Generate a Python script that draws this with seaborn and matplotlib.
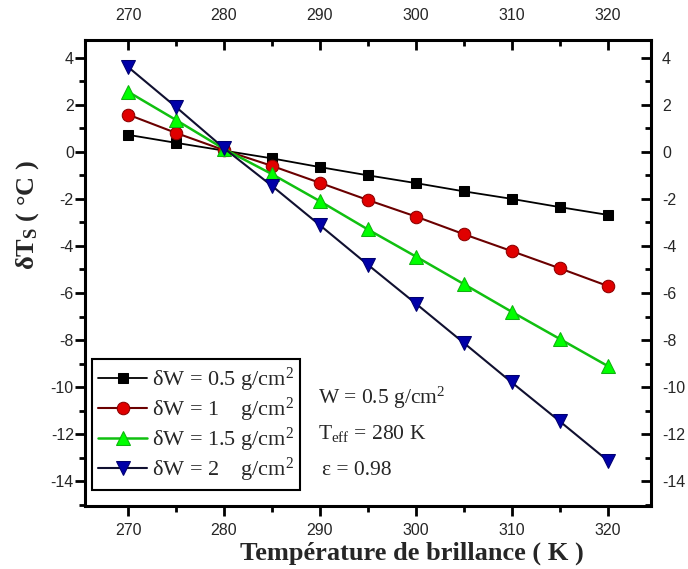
import matplotlib
matplotlib.use("Agg")
import matplotlib.pyplot as plt
import seaborn as sns
import pandas as pd
from matplotlib.ticker import MultipleLocator

# Data
temperature = [270, 275, 280, 285, 290, 295, 300, 305, 310, 315, 320]
dw_05 = [0.72, 0.38, 0.05, -0.28, -0.65, -1.0, -1.33, -1.68, -2.0, -2.35, -2.68]
dw_1 = [1.58, 0.8, 0.07, -0.6, -1.32, -2.05, -2.75, -3.5, -4.22, -4.95, -5.7]
dw_15 = [2.55, 1.35, 0.12, -0.95, -2.1, -3.3, -4.45, -5.62, -6.8, -7.95, -9.1]
dw_2 = [3.6, 1.9, 0.15, -1.45, -3.12, -4.8, -6.45, -8.12, -9.8, -11.45, -13.12]
labels = [r"$\delta$W = 0.5 g/cm$^2$", r"$\delta$W = 1    g/cm$^2$",
          r"$\delta$W = 1.5 g/cm$^2$", r"$\delta$W = 2    g/cm$^2$"]
series = [dw_05, dw_1, dw_15, dw_2]

sns.set_style("white")
plt.rcParams['font.family'] = ['Liberation Sans', 'DejaVu Sans']
plt.rcParams['axes.unicode_minus'] = False
plt.rcParams['mathtext.fontset'] = 'custom'
plt.rcParams['mathtext.rm'] = 'Liberation Serif'
plt.rcParams['mathtext.it'] = 'Liberation Serif'
plt.rcParams['mathtext.bf'] = 'Liberation Serif:bold'

styles = [
    dict(color='black', marker='s', markerfacecolor='black', markeredgecolor='black', markersize=7.5, linewidth=1.3),
    dict(color='#6b0000', marker='o', markerfacecolor='#e00000', markeredgecolor='#8b0000', markersize=9, linewidth=1.5),
    dict(color='#10c010', marker='^', markerfacecolor='#00ff00', markeredgecolor='#10b010', markersize=10, linewidth=1.8),
    dict(color='#101030', marker='v', markerfacecolor='#0000a8', markeredgecolor='#000070', markersize=10, linewidth=1.5),
]

fig = plt.figure(figsize=(6.88, 5.69), dpi=100)
ax = fig.add_axes([0.1235, 0.1107, 0.8225, 0.819])

for vals, lab, st in zip(series, labels, styles):
    df = pd.DataFrame({'T': temperature, 'dTs': vals})
    sns.lineplot(data=df, x='T', y='dTs', ax=ax, label=lab, **st)

ax.set_xlim(265.5, 324.5)
ax.set_ylim(-15.05, 4.75)
ax.xaxis.set_major_locator(MultipleLocator(10))
ax.xaxis.set_minor_locator(MultipleLocator(5))
ax.yaxis.set_major_locator(MultipleLocator(2))
ax.yaxis.set_minor_locator(MultipleLocator(1))

for s in ax.spines.values():
    s.set_linewidth(2.2)
    s.set_color('black')

ax.tick_params(axis='both', which='both', bottom=True, left=True, top=True, right=True,
               labeltop=True, labelright=True, labelsize=11.5, width=2, color='black')
ax.tick_params(which='major', length=7)
ax.tick_params(which='minor', length=4)
ax.tick_params(axis='x', which='both', pad=5)
ax.tick_params(axis='y', which='both', pad=1)
# bottom/left outward, top/right inward
for t in ax.xaxis.get_major_ticks() + ax.xaxis.get_minor_ticks():
    t.tick1line.set_marker(matplotlib.lines.TICKDOWN)
    t.tick2line.set_marker(matplotlib.lines.TICKDOWN)
for t in ax.yaxis.get_major_ticks() + ax.yaxis.get_minor_ticks():
    t.tick1line.set_marker(matplotlib.lines.TICKLEFT)
    t.tick2line.set_marker(matplotlib.lines.TICKLEFT)

ax.set_xlabel("Température de brillance ( K )", fontfamily='Liberation Serif',
              fontweight='bold', fontsize=19)
ax.xaxis.set_label_coords(0.577, -0.077)
ax.set_ylabel(r"δT$_\mathbf{S}$ ( °C )", fontfamily='Liberation Serif',
              fontweight='bold', fontsize=19)
ax.yaxis.set_label_coords(-0.077, 0.625)

leg = ax.legend(loc='lower left', bbox_to_anchor=(0.012, 0.034), prop={'family': 'Liberation Serif', 'size': 16},
                frameon=True, fancybox=False, edgecolor='black', framealpha=1,
                handlelength=2.2, handletextpad=0.2, labelspacing=0.08, borderpad=0.3, borderaxespad=0)
leg.get_frame().set_linewidth(1.5)

tk = dict(transform=ax.transAxes, fontsize=15.5, fontfamily='Liberation Serif', va='center')
ax.text(0.412, 0.232, "W = 0.5 g/cm$^2$", **tk)
ax.text(0.412, 0.155, "T$_{\\rm eff}$ = 280 K", **tk)
ax.text(0.418, 0.077, "ε = 0.98", **tk)

fig.savefig("out.png", dpi=100)
